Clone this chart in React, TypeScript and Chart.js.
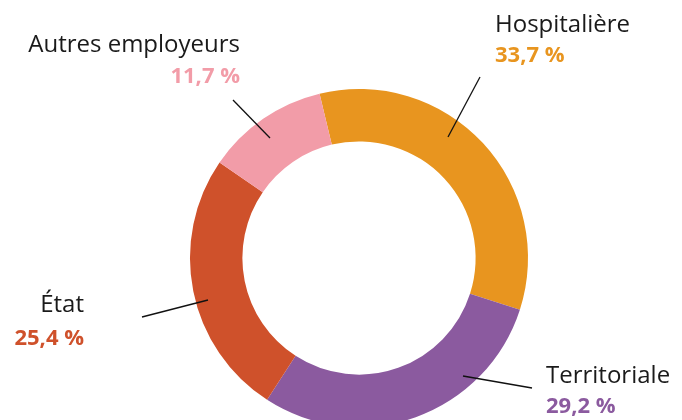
import React, { useEffect, useRef } from "react";
import { Chart, registerables } from "chart.js";

Chart.register(...registerables);

// ---- data ----
const categories = ["Hospitalière", "Territoriale", "État", "Autres employeurs"];
const shares = [33.7, 29.2, 25.4, 11.7];
const colors = ["#E8951F", "#8B5A9F", "#CF512B", "#F29CA8"];

// ---- annotation layout (offsets from the doughnut centre, px) ----
const labelAlign: CanvasTextAlign[] = ["left", "left", "right", "right"];
const labelDx = [136, 187, -275, -119];
const nameDy = [-226, 125, 54, -206];
const valueDy = [-196, 155, 87, -175];
const leaderFrom = [
  [89, -121],
  [104, 118],
  [-151, 42],
  [-89, -120],
];
const leaderTo = [
  [121, -181],
  [173, 130],
  [-217, 59],
  [-126, -158],
];

const fmt = (v: number) => v.toFixed(1).replace(".", ",") + " %";

const labelPlugin = {
  id: "donutLabels",
  afterDraw(chart: any) {
    const meta = chart.getDatasetMeta(0);
    const arc = meta.data[0];
    if (!arc) return;
    const cx = arc.x;
    const cy = arc.y;
    const ctx = chart.ctx as CanvasRenderingContext2D;
    ctx.save();
    // leader lines
    ctx.strokeStyle = "#111";
    ctx.lineWidth = 1.3;
    categories.forEach((_, i) => {
      ctx.beginPath();
      ctx.moveTo(cx + leaderFrom[i][0], cy + leaderFrom[i][1]);
      ctx.lineTo(cx + leaderTo[i][0], cy + leaderTo[i][1]);
      ctx.stroke();
    });
    // texts
    ctx.textBaseline = "alphabetic";
    categories.forEach((name, i) => {
      ctx.textAlign = labelAlign[i];
      ctx.fillStyle = "#1a1a1a";
      ctx.font = "400 24px 'Open Sans'";
      ctx.fillText(name, cx + labelDx[i], cy + nameDy[i]);
      ctx.fillStyle = colors[i];
      ctx.font = "700 22px 'Open Sans'";
      ctx.fillText(fmt(shares[i]), cx + labelDx[i], cy + valueDy[i]);
    });
    ctx.restore();
  },
};

export default function App() {
  const ref = useRef<HTMLCanvasElement>(null);
  useEffect(() => {
    if (!ref.current) return;
    const chart = new Chart(ref.current, {
      type: "doughnut",
      data: {
        labels: categories,
        datasets: [
          {
            data: shares,
            backgroundColor: colors,
            borderWidth: 0,
            hoverOffset: 0,
          },
        ],
      },
      options: {
        responsive: false,
        animation: false,
        devicePixelRatio: 1,
        rotation: -13.5,
        cutout: "69%",
        layout: { padding: { left: 190, right: 154, top: 89, bottom: 13 } },
        plugins: {
          legend: { display: false },
          tooltip: { enabled: false },
        },
      },
      plugins: [labelPlugin],
    });
    return () => chart.destroy();
  }, []);
  return (
    <div
      style={{
        position: "fixed",
        left: 0,
        top: 0,
        width: 682,
        height: 420,
        overflow: "hidden",
        background: "#fff",
      }}
    >
      <canvas ref={ref} width={682} height={440} style={{ width: 682, height: 440, display: "block" }} />
    </div>
  );
}
